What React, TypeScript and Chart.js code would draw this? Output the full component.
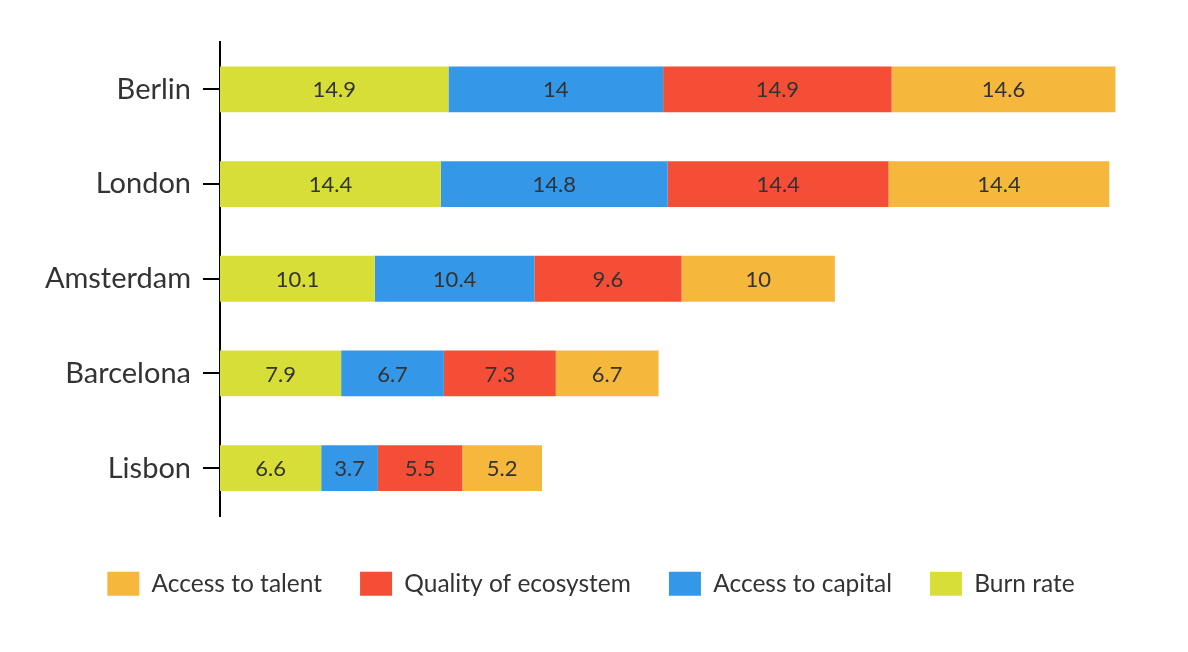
import React, { useEffect, useRef } from "react";
import { Chart, registerables } from "chart.js";

Chart.register(...registerables);

const cities = ["Berlin", "London", "Amsterdam", "Barcelona", "Lisbon"];
const burnRate = [14.9, 14.4, 10.1, 7.9, 6.6];
const accessToCapital = [14, 14.8, 10.4, 6.7, 3.7];
const qualityOfEcosystem = [14.9, 14.4, 9.6, 7.3, 5.5];
const accessToTalent = [14.6, 14.4, 10, 6.7, 5.2];

const FONT = "Lato, 'Open Sans', 'DejaVu Sans', sans-serif";
const TEXT = "#333333";

const valueLabels = {
  id: "valueLabels",
  afterDatasetsDraw(chart: any) {
    const ctx = chart.ctx;
    ctx.save();
    ctx.font = `22px ${FONT}`;
    ctx.fillStyle = TEXT;
    ctx.textAlign = "center";
    ctx.textBaseline = "middle";
    chart.data.datasets.forEach((ds: any, di: number) => {
      const meta = chart.getDatasetMeta(di);
      if (meta.hidden) return;
      meta.data.forEach((el: any, i: number) => {
        const p = el.getProps(["x", "y", "base"], true);
        const cx = (p.x + p.base) / 2;
        ctx.fillText(String(ds.data[i]), cx, p.y + 1);
      });
    });
    ctx.restore();
  },
};

export default function App() {
  const ref = useRef<HTMLCanvasElement | null>(null);
  useEffect(() => {
    if (!ref.current) return;
    const chart = new Chart(ref.current, {
      type: "bar",
      data: {
        labels: cities,
        datasets: [
          { label: "Burn rate", data: burnRate, backgroundColor: "#D7DE38" },
          { label: "Access to capital", data: accessToCapital, backgroundColor: "#3597E8" },
          { label: "Quality of ecosystem", data: qualityOfEcosystem, backgroundColor: "#F44E37" },
          { label: "Access to talent", data: accessToTalent, backgroundColor: "#F5B73C" },
        ],
      },
      options: {
        indexAxis: "y",
        animation: false,
        responsive: true,
        maintainAspectRatio: false,
        datasets: { bar: { categoryPercentage: 1, barPercentage: 0.484 } },
        layout: { padding: { top: 34, right: 40, bottom: 38, left: 34 } },
        scales: {
          x: {
            stacked: true,
            min: 0,
            max: 60,
            grid: { display: false },
            border: { display: false },
            ticks: { display: false },
            title: {
              display: true,
              text: "",
              padding: { top: 0, bottom: 0 },
              font: { size: 10, lineHeight: 1 },
            },
          },
          y: {
            stacked: true,
            afterFit: (scale: any) => {
              scale.width = 178;
            },
            grid: {
              display: true,
              offset: false,
              drawOnChartArea: false,
              drawTicks: true,
              tickLength: 17,
              color: "#000000",
              lineWidth: 2,
            },
            border: { display: true, color: "#000000", width: 2 },
            ticks: {
              padding: 12,
              color: TEXT,
              font: { family: FONT, size: 29 },
            },
          },
        },
        plugins: {
          legend: {
            position: "bottom",
            reverse: true,
            labels: {
              boxWidth: 32,
              boxHeight: 24,
              padding: 38,
              color: TEXT,
              font: { family: FONT, size: 24.5 },
            },
          },
          tooltip: { enabled: false },
        },
      },
      plugins: [valueLabels],
    });
    return () => chart.destroy();
  }, []);
  return (
    <div style={{ position: "relative", width: 1172, height: 636 }}>
      <canvas ref={ref} />
    </div>
  );
}
